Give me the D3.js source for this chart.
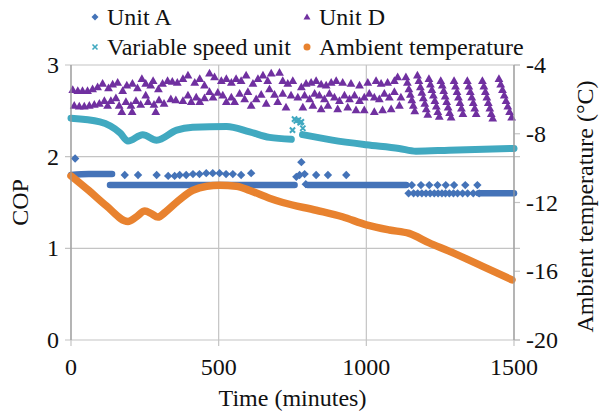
<!DOCTYPE html>
<html>
<head>
<meta charset="utf-8">
<script src="https://cdn.jsdelivr.net/npm/d3@7"></script>
</head>
<body style="margin:0">
<script>
// chart.js

const W = 601, H = 412;
const margin = {top: 65, right: 87, bottom: 72, left: 71};

// x axis / y axes tick values
const xTicks = [0, 500, 1000, 1500];
const copTicks = [0, 1, 2, 3];
const tempTicks = [-20, -16, -12, -8, -4];

// Ambient temperature (deg C)
const ambient = [
  [0, -10.45], [60, -11.3], [120, -12.2], [193, -13.1], [220, -12.85], [250, -12.5],
  [272, -12.65], [294, -12.85], [320, -12.55], [360, -11.95], [412, -11.3], [460, -11.05],
  [503, -11.0], [560, -11.05], [605, -11.3], [672, -11.75], [717, -12.0], [830, -12.45],
  [919, -12.83], [1000, -13.3], [1078, -13.6], [1145, -13.8], [1213, -14.35], [1280, -14.83],
  [1392, -15.7], [1493, -16.5]
];

// Variable speed unit: dense band (drawn as thick stroke) + a few loose markers
const varBand1 = [
  [0, 2.42], [98, 2.38], [166, 2.26], [193, 2.17], [243, 2.24], [290, 2.18], [358, 2.29],
  [412, 2.32], [527, 2.33], [605, 2.27], [672, 2.21], [746, 2.19]
];
const varBand2 = [
  [784, 2.24], [885, 2.18], [1000, 2.13], [1111, 2.09], [1168, 2.06], [1280, 2.07], [1500, 2.09]
];
const varPoints = [
  [750, 2.29], [757, 2.41], [763, 2.39], [770, 2.40], [776, 2.37], [780, 2.38], [785, 2.31]
];

// Unit A: dense bands + separate diamonds
const unitABands = [
  [[0, 1.80], [60, 1.81], [139, 1.81]],
  [[132, 1.69], [757, 1.69]],
  [[801, 1.69], [1135, 1.69]],
  [[1380, 1.60], [1500, 1.60]]
];
const unitAPoints = [
  [14, 1.98], [182, 1.80], [227, 1.80], [290, 1.80], [329, 1.79], [351, 1.79], [368, 1.80],
  [390, 1.80], [413, 1.81], [435, 1.81], [458, 1.82], [480, 1.82], [503, 1.82], [525, 1.81],
  [548, 1.81], [576, 1.80], [610, 1.82], [763, 1.78], [774, 1.80], [780, 1.94], [791, 1.81],
  [795, 1.70], [830, 1.80], [870, 1.80], [932, 1.80],
  [1154, 1.69], [1185, 1.69], [1213, 1.69], [1241, 1.69], [1269, 1.69], [1297, 1.69],
  [1335, 1.69], [1376, 1.69],
  [1143, 1.60], [1160, 1.60], [1174, 1.60], [1188, 1.60], [1202, 1.60], [1216, 1.60],
  [1230, 1.60], [1243, 1.60], [1256, 1.60], [1268, 1.60], [1281, 1.60], [1295, 1.60],
  [1309, 1.60], [1326, 1.60], [1343, 1.60], [1362, 1.60], [1382, 1.60]
];

// Unit D triangles
const unitD = [
  // upper row
  [6, 2.73], [23, 2.72], [39, 2.72], [56, 2.72], [73, 2.74], [90, 2.76], [107, 2.80],
  [127, 2.75], [141, 2.79], [158, 2.81], [175, 2.72], [189, 2.78], [208, 2.80], [225, 2.75],
  [240, 2.85], [253, 2.80], [270, 2.78], [278, 2.83], [296, 2.74], [310, 2.80], [327, 2.83],
  [343, 2.82], [360, 2.81], [379, 2.85], [396, 2.89], [419, 2.81], [436, 2.85], [452, 2.78],
  [469, 2.91], [486, 2.87], [509, 2.83], [526, 2.85], [543, 2.81], [559, 2.85], [576, 2.83],
  [593, 2.89], [616, 2.80], [633, 2.85], [650, 2.89], [666, 2.83], [678, 2.91], [706, 2.92],
  [717, 2.83], [734, 2.80], [751, 2.83], [780, 2.76], [796, 2.80], [813, 2.81], [830, 2.83],
  [847, 2.79], [864, 2.78], [881, 2.81], [898, 2.83], [920, 2.81], [948, 2.80], [977, 2.78],
  [1005, 2.81], [1033, 2.83], [1050, 2.80], [1072, 2.81], [1095, 2.83], [1106, 2.87],
  // lower rows
  [11, 2.56], [28, 2.55], [45, 2.55], [62, 2.56], [79, 2.57], [96, 2.58], [113, 2.61],
  [124, 2.56], [135, 2.61], [152, 2.64], [163, 2.56], [172, 2.49], [186, 2.60], [203, 2.56],
  [207, 2.49], [220, 2.61], [236, 2.57], [253, 2.67], [261, 2.60], [281, 2.57], [287, 2.49],
  [298, 2.62], [315, 2.58], [338, 2.63], [355, 2.62], [379, 2.61], [396, 2.67], [407, 2.60],
  [424, 2.65], [436, 2.60], [452, 2.64], [469, 2.71], [481, 2.65], [497, 2.70], [514, 2.67],
  [526, 2.60], [543, 2.65], [554, 2.60], [571, 2.69], [588, 2.63], [599, 2.71], [610, 2.56],
  [627, 2.63], [644, 2.68], [661, 2.58], [672, 2.74], [689, 2.68], [700, 2.60], [717, 2.69],
  [728, 2.54], [745, 2.67], [768, 2.65], [791, 2.67], [808, 2.63], [825, 2.69], [841, 2.67],
  [858, 2.63], [875, 2.69], [892, 2.65], [909, 2.61], [926, 2.67], [943, 2.63], [960, 2.67],
  [977, 2.61], [993, 2.65], [1010, 2.69], [1027, 2.65], [1044, 2.63], [1061, 2.69],
  [1078, 2.65], [1095, 2.71], [1117, 2.65],
  [785, 2.54], [819, 2.56], [847, 2.52], [870, 2.56], [903, 2.52], [937, 2.54], [965, 2.51],
  [993, 2.51], [1027, 2.49], [1055, 2.51], [1084, 2.52], [1112, 2.56],
  // falling strands
  [1134, 2.87], [1139, 2.81], [1144, 2.74], [1149, 2.68], [1154, 2.62], [1159, 2.56], [1164, 2.50],
  [1173, 2.89], [1178, 2.83], [1183, 2.76], [1188, 2.70], [1193, 2.64], [1198, 2.58], [1203, 2.52], [1208, 2.46],
  [1212, 2.85], [1217, 2.79], [1222, 2.73], [1227, 2.67], [1232, 2.61], [1237, 2.55], [1242, 2.49], [1247, 2.44],
  [1252, 2.83], [1257, 2.78], [1262, 2.72], [1267, 2.66], [1272, 2.60], [1277, 2.54], [1282, 2.48], [1287, 2.43],
  [1297, 2.83], [1302, 2.77], [1307, 2.71], [1312, 2.65], [1317, 2.59], [1322, 2.53], [1327, 2.47],
  [1342, 2.83], [1347, 2.77], [1352, 2.71], [1357, 2.65], [1362, 2.59], [1367, 2.53], [1372, 2.47],
  [1393, 2.83], [1398, 2.77], [1403, 2.71], [1408, 2.65], [1413, 2.59], [1418, 2.53], [1423, 2.47], [1428, 2.42],
  [1449, 2.85], [1455, 2.79], [1461, 2.73], [1467, 2.67], [1473, 2.61], [1479, 2.55], [1485, 2.49], [1492, 2.43]
];

const colors = {
  unitA: "#4473b8",
  unitD: "#7030a0",
  varSpeed: "#41a9c0",
  ambient: "#e8822f"
};

const svg = d3.select("body").append("svg")
  .attr("width", W)
  .attr("height", H)
  .attr("font-family", "Liberation Serif");

const x = d3.scaleLinear().domain([0, 1500]).range([margin.left, W - margin.right]);
const yL = d3.scaleLinear().domain([0, 3]).range([H - margin.bottom, margin.top]);
const yR = d3.scaleLinear().domain([-20, -4]).range([H - margin.bottom, margin.top]);

// gridlines
const grid = svg.append("g").attr("stroke", "#c4c4c4").attr("stroke-width", 1.2);
grid.selectAll(".hg").data(copTicks).enter().append("line")
  .attr("x1", x(0) - 6).attr("x2", x(1500) + 6)
  .attr("y1", d => yL(d)).attr("y2", d => yL(d));
grid.selectAll(".vg").data(xTicks).enter().append("line")
  .attr("x1", d => x(d)).attr("x2", d => x(d))
  .attr("y1", yL(3)).attr("y2", yL(0) + 6);
// right axis ticks
grid.selectAll(".rt").data(tempTicks).enter().append("line")
  .attr("x1", x(1500)).attr("x2", x(1500) + 6)
  .attr("y1", d => yR(d)).attr("y2", d => yR(d));

const diamond = "M0,-4.2L4.2,0L0,4.2L-4.2,0Z";
const triangle = "M0,-4.4L4.4,3.3L-4.4,3.3Z";
const cross = "M-2.6,-2.6L2.6,2.6M-2.6,2.6L2.6,-2.6";

const line = d3.line().x(d => x(d[0])).y(d => yL(d[1])).curve(d3.curveMonotoneX);

// Variable speed unit
[varBand1, varBand2].forEach(b => {
  svg.append("path").datum(b)
    .attr("d", line)
    .attr("fill", "none")
    .attr("stroke", colors.varSpeed)
    .attr("stroke-width", 7)
    .attr("stroke-linecap", "round");
});
svg.selectAll(".vp").data(varPoints).enter().append("path")
  .attr("transform", d => `translate(${x(d[0])},${yL(d[1])})`)
  .attr("d", cross)
  .attr("stroke", colors.varSpeed)
  .attr("stroke-width", 2);

// Unit A
unitABands.forEach(b => {
  svg.append("path").datum(b)
    .attr("d", line)
    .attr("fill", "none")
    .attr("stroke", colors.unitA)
    .attr("stroke-width", 6.5)
    .attr("stroke-linecap", "round");
});
svg.selectAll(".ap").data(unitAPoints).enter().append("path")
  .attr("transform", d => `translate(${x(d[0])},${yL(d[1])})`)
  .attr("d", diamond)
  .attr("fill", colors.unitA);

// Unit D
svg.selectAll(".dp").data(unitD).enter().append("path")
  .attr("transform", d => `translate(${x(d[0])},${yL(d[1])})`)
  .attr("d", triangle)
  .attr("fill", colors.unitD);

// Ambient temperature on the right axis
svg.append("path").datum(ambient)
  .attr("d", d3.line().x(d => x(d[0])).y(d => yR(d[1])).curve(d3.curveMonotoneX))
  .attr("fill", "none")
  .attr("stroke", colors.ambient)
  .attr("stroke-width", 7.5)
  .attr("stroke-linecap", "round")
  .attr("stroke-linejoin", "round");

// axis lines
svg.append("line")
  .attr("x1", x(0)).attr("x2", x(0)).attr("y1", yL(3)).attr("y2", yL(0))
  .attr("stroke", "#9a9a9a").attr("stroke-width", 1.2);
svg.append("line")
  .attr("x1", x(1500)).attr("x2", x(1500)).attr("y1", yL(3)).attr("y2", yL(0))
  .attr("stroke", "#9a9a9a").attr("stroke-width", 1.2);

// tick labels
const fs = 24;
function label(sel) {
  return sel.attr("font-size", fs).attr("fill", "#111")
    .style("font-family", d => '"Liberation Serif"');
}
label(svg.selectAll(".xl").data(xTicks).enter().append("text"))
  .attr("x", d => x(d)).attr("y", yL(0) + 35)
  .attr("text-anchor", "middle")
  .text(d => d);
label(svg.selectAll(".yl").data(copTicks).enter().append("text"))
  .attr("x", x(0) - 12).attr("y", d => yL(d) + 8)
  .attr("text-anchor", "end")
  .text(d => d);
label(svg.selectAll(".yr").data(tempTicks).enter().append("text"))
  .attr("x", x(1500) + 12).attr("y", d => yR(d) + 8)
  .attr("text-anchor", "start")
  .text(d => d);

// axis titles
label(svg.append("text"))
  .attr("x", (x(0) + x(1500)) / 2).attr("y", 406)
  .attr("text-anchor", "middle")
  .text("Time (minutes)");
label(svg.append("text"))
  .attr("transform", `translate(28,${(yL(0) + yL(3)) / 2}) rotate(-90)`)
  .attr("text-anchor", "middle")
  .text("COP");
label(svg.append("text"))
  .attr("transform", `translate(593,${(yL(0) + yL(3)) / 2 + 4}) rotate(-90)`)
  .attr("text-anchor", "middle")
  .text("Ambient temperature (\u00B0C)");

// legend
const legend = [
  {name: "Unit A", col: 0, row: 0, shape: "diamond", color: colors.unitA},
  {name: "Unit D", col: 1, row: 0, shape: "triangle", color: colors.unitD},
  {name: "Variable speed unit", col: 0, row: 1, shape: "cross", color: colors.varSpeed},
  {name: "Ambient temperature", col: 1, row: 1, shape: "circle", color: colors.ambient}
];
const colX = [95, 307], rowY = [17, 47];
const lg = svg.selectAll(".lg").data(legend).enter().append("g")
  .attr("transform", d => `translate(${colX[d.col]},${rowY[d.row]})`);
lg.each(function(d) {
  const g = d3.select(this);
  if (d.shape === "circle") {
    g.append("circle").attr("r", 3.5).attr("fill", d.color);
  } else if (d.shape === "cross") {
    g.append("path").attr("d", "M-2.5,-2.5L2.5,2.5M-2.5,2.5L2.5,-2.5")
      .attr("stroke", d.color).attr("stroke-width", 1.6);
  } else {
    g.append("path").attr("d", d.shape === "diamond" ? "M0,-3.5L3.5,0L0,3.5L-3.5,0Z" : "M0,-3.5L3.5,2.5L-3.5,2.5Z")
      .attr("fill", d.color);
  }
  label(g.append("text")).attr("x", 12).attr("y", 8).text(d.name);
});
</script>
</body>
</html>
